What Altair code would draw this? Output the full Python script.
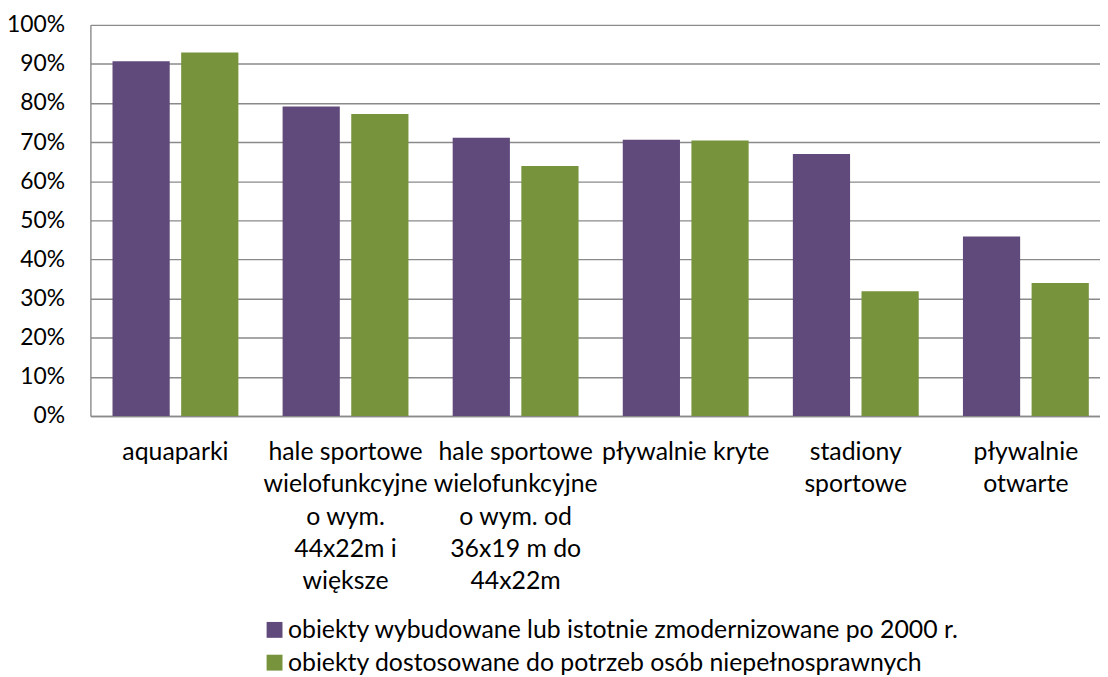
import altair as alt
import pandas as pd

categories = [
    "aquaparki",
    "hale sportowe\nwielofunkcyjne\no wym.\n44x22m i\nwiększe",
    "hale sportowe\nwielofunkcyjne\no wym. od\n36x19 m do\n44x22m",
    "pływalnie kryte",
    "stadiony\nsportowe",
    "pływalnie\notwarte",
]
series = [
    "obiekty wybudowane lub istotnie zmodernizowane po 2000 r.",
    "obiekty dostosowane do potrzeb osób niepełnosprawnych",
]
modernized = [0.907, 0.791, 0.711, 0.706, 0.670, 0.459]
adapted = [0.929, 0.772, 0.639, 0.704, 0.319, 0.340]
colors = ["#604A7B", "#77933C"]
y_ticks = [0, 0.1, 0.2, 0.3, 0.4, 0.5, 0.6, 0.7, 0.8, 0.9, 1.0]

rows = []
for c, v in zip(categories, modernized):
    rows.append({"cat": c, "series": series[0], "value": v})
for c, v in zip(categories, adapted):
    rows.append({"cat": c, "series": series[1], "value": v})
df = pd.DataFrame(rows)

FONT = "Lato"
grid_col = "#8a8a8a"

chart = alt.Chart(df).mark_bar().encode(
    x=alt.X(
        "cat:N",
        sort=categories,
        scale=alt.Scale(paddingInner=0.26, paddingOuter=0.13, range=[0, 1028]),
        axis=alt.Axis(
            title=None,
            labelAngle=0,
            labelExpr="split(datum.label, '\\n')",
            labelFont=FONT,
            labelFontSize=25,
            labelColor="#000000",
            labelLineHeight=32.5,
            labelPadding=24,
            labelLimit=400,
            ticks=False,
            domainColor=grid_col,
            domainWidth=1.4,
            grid=False,
        ),
    ),
    xOffset=alt.XOffset("series:N", sort=series, scale=alt.Scale(paddingInner=0.1667)),
    y=alt.Y(
        "value:Q",
        scale=alt.Scale(domain=[0, 1]),
        axis=alt.Axis(
            title=None,
            values=y_ticks,
            format=".0%",
            labelFont=FONT,
            labelFontSize=23,
            labelColor="#000000",
            labelPadding=26,
            ticks=False,
            domainColor=grid_col,
            domainWidth=1.4,
            grid=True,
            gridColor=grid_col,
            gridWidth=1.4,
        ),
    ),
    color=alt.Color(
        "series:N",
        sort=series,
        scale=alt.Scale(domain=series, range=colors),
        legend=alt.Legend(
            title=None,
            orient="none",
            legendX=173,
            legendY=597,
            direction="vertical",
            symbolType="square",
            symbolSize=256,
            symbolStrokeWidth=0,
            labelFont=FONT,
            labelFontSize=25,
            labelColor="#000000",
            labelLimit=900,
            labelOffset=1,
            rowPadding=7,
            padding=0,
        ),
    ),
).properties(
    width=1017,
    height=394,
    autosize="none",
    padding={"left": 83, "top": 14.5, "right": 0, "bottom": 260},
).configure_view(stroke="transparent")

chart.save("out.html", embed_options={"renderer": "svg", "actions": False})
